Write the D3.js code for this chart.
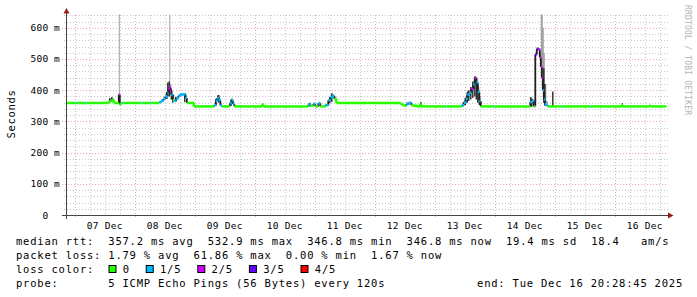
<!DOCTYPE html>
<html>
<head>
<meta charset="utf-8">
<script src="https://cdn.jsdelivr.net/npm/d3@7/dist/d3.min.js"></script>
<style>
  body { margin: 0; background: #fff; }
  text { font-family: "DejaVu Sans Mono", monospace; fill: #000; white-space: pre; }
</style>
</head>
<body>
<div id="chart"></div>
<script>
// breakpoints of the median rtt (ms); each value holds until the next time
const times = [
  "12-06 20:28", "12-07 00:48", "12-07 01:12", "12-07 04:12", "12-07 04:36",
  "12-07 13:24", "12-07 14:12", "12-07 15:00", "12-07 15:36",
  "12-07 17:36", "12-07 18:00", "12-07 18:24", "12-07 18:48", "12-07 19:12",
  "12-08 02:12", "12-08 02:36", "12-08 06:12", "12-08 06:36",
  "12-08 09:48", "12-08 10:36", "12-08 11:24", "12-08 12:12", "12-08 13:00", "12-08 13:24",
  "12-08 13:48", "12-08 14:12", "12-08 14:36", "12-08 15:12", "12-08 15:48", "12-08 16:36",
  "12-08 17:24", "12-08 18:12", "12-08 19:24", "12-08 20:12", "12-08 20:48",
  "12-08 23:36",
  "12-09 07:48", "12-09 08:24", "12-09 09:00", "12-09 09:36", "12-09 10:12", "12-09 10:48",
  "12-09 14:00", "12-09 14:36", "12-09 15:12", "12-09 15:48",
  "12-10 02:48", "12-10 03:24", "12-10 21:24", "12-10 22:12", "12-10 23:24",
  "12-11 00:12", "12-11 01:24", "12-11 02:12", "12-11 04:12", "12-11 05:24",
  "12-11 06:12", "12-11 07:00", "12-11 07:48", "12-11 08:36",
  "12-12 10:12", "12-12 11:00", "12-12 11:48", "12-12 12:36", "12-12 13:48",
  "12-12 14:36", "12-12 15:24", "12-12 16:48", "12-12 18:12", "12-12 18:36",
  "12-13 04:12", "12-13 04:36", "12-13 10:48", "12-13 11:36", "12-13 12:24",
  "12-13 13:00", "12-13 13:48", "12-13 14:36", "12-13 15:24", "12-13 16:00",
  "12-13 16:36", "12-13 17:12", "12-13 17:48", "12-13 18:24", "12-13 23:48",
  "12-14 00:12", "12-14 14:12", "12-14 15:00", "12-14 15:36", "12-14 16:12",
  "12-14 16:48", "12-14 17:24", "12-14 18:00", "12-14 18:24", "12-14 18:48",
  "12-14 19:12", "12-14 19:36", "12-14 20:00", "12-14 20:36", "12-14 21:12",
  "12-15 02:48", "12-15 03:12", "12-15 14:24", "12-15 14:48",
  "12-16 02:48", "12-16 03:12", "12-16 13:48", "12-16 14:12", "12-16 20:28"
];
const medianMs = [
  359, 359, 359, 359, 359,
  362, 366, 369, 359,
  386, 354, 359, 359, 359,
  359, 359, 359, 359,
  362, 366, 372, 380, 392, 405,
  410, 398, 385, 368, 366, 374,
  382, 386, 387, 375, 359,
  348,
  352, 366, 375, 368, 352, 348,
  358, 368, 356, 348,
  354, 348, 354, 350, 356,
  348, 358, 348, 352, 368,
  378, 382, 372, 359,
  356, 352, 350, 356, 360,
  352, 350, 348, 356, 348,
  348, 348, 352, 360, 372,
  386, 392, 404, 418, 440,
  425, 395, 365, 348, 348,
  348, 362, 366, 348, 515,
  533, 530, 505, 475, 440,
  400, 370, 355, 352, 348,
  348, 348, 348, 348,
  352, 348, 350, 348, 348
];
// lost pings out of 5 for each breakpoint
const lossLevel = [
  0, 1, 0, 1, 0,
  0, 0, 0, 0,
  2, 0, 0, 1, 0,
  1, 0, 1, 0,
  1, 1, 1, 1, 1, 2,
  2, 2, 1, 0, 1, 1,
  1, 1, 1, 1, 0,
  0,
  1, 1, 1, 1, 1, 0,
  1, 1, 1, 0,
  0, 0, 1, 0, 1,
  0, 1, 0, 1, 1,
  1, 1, 0, 0,
  0, 0, 0, 1, 1,
  0, 0, 0, 0, 0,
  1, 0, 1, 1, 1,
  1, 1, 2, 1, 2,
  1, 1, 1, 0, 1,
  0, 1, 1, 0, 3,
  3, 2, 2, 2, 2,
  1, 1, 1, 1, 0,
  1, 0, 1, 0,
  0, 0, 0, 0, 0
];
// top of the grey smoke (slowest ping) at each breakpoint
const smokeTopMs = [
  359, 359, 359, 359, 359,
  366, 372, 375, 359,
  643, 354, 359, 359, 359,
  359, 359, 359, 359,
  364, 370, 378, 392, 402, 425,
  643, 420, 400, 385, 372, 380,
  386, 390, 390, 386, 359,
  348,
  358, 374, 385, 378, 360, 348,
  366, 374, 362, 348,
  358, 348, 358, 350, 360,
  348, 362, 348, 356, 372,
  384, 386, 380, 359,
  356, 352, 350, 362, 360,
  352, 350, 348, 360, 348,
  348, 348, 356, 368, 382,
  395, 400, 410, 430, 444,
  438, 410, 380, 348, 348,
  348, 376, 372, 348, 522,
  536, 535, 520, 643, 643,
  600, 520, 420, 365, 348,
  348, 348, 348, 348,
  352, 348, 350, 348, 348
];
// dark smoke strokes (fast/slow pings around the median)
const darkTimes = [
  "12-07 13:48", "12-07 14:36",
  "12-08 12:36", "12-08 13:00", "12-08 13:36", "12-08 14:24", "12-08 15:00", "12-08 16:12", "12-08 19:48",
  "12-09 08:12", "12-09 09:00", "12-09 09:24", "12-09 14:24",
  "12-10 21:48", "12-11 05:48", "12-11 06:36",
  "12-12 18:12",
  "12-13 11:12", "12-13 12:00", "12-13 12:48", "12-13 13:24", "12-13 14:12",
  "12-13 15:00", "12-13 15:48", "12-13 16:24", "12-13 17:00", "12-13 17:36",
  "12-14 14:12", "12-14 14:36", "12-14 19:24", "12-14 19:48", "12-14 23:00",
  "12-16 02:48"
];
const darkLowMs = [
  362, 362,
  372, 380, 380, 370, 360, 362, 362,
  350, 366, 360, 350,
  348, 358, 362,
  348,
  348, 352, 360, 365, 370,
  375, 380, 370, 360, 352,
  348, 348, 360, 350, 348,
  348
];
const darkHighMs = [
  375, 378,
  395, 425, 428, 405, 388, 378, 390,
  372, 383, 385, 372,
  360, 378, 390,
  362,
  362, 376, 395, 400, 410,
  428, 444, 438, 415, 385,
  378, 372, 470, 420, 396,
  358
];

const yTicks = [0, 100, 200, 300, 400, 500, 600];
const yTickLabels = ["0", "100", "200", "300", "400", "500", "600"];
const lossColors = ["#26ff00", "#00b8ff", "#d400ff", "#6600ff", "#ff0000"];
const lossLabels = ["0", "1/5", "2/5", "3/5", "4/5"];
const statNames = ["avg", "max", "min", "now", "sd"];
const rttStats = [357.2, 532.9, 346.8, 346.8, 19.4];
const amPerSec = 18.4;
const lossStats = [1.79, 61.86, 0.00, 1.67];
const probeText = "5 ICMP Echo Pings (56 Bytes) every 120s";
const endText = "end: Tue Dec 16 20:28:45 2025";

const W = 697, H = 297;
const parse = d3.timeParse("%Y-%m-%d %H:%M");
const T = times.map(s => parse("2025-" + s));
const start = d3.timeParse("%Y-%m-%d %H:%M:%S")("2025-12-06 20:28:45");
const end = d3.timeParse("%Y-%m-%d %H:%M:%S")("2025-12-16 20:28:45");

const x = d3.scaleTime().domain([start, end]).range([66, 666]);
const y = d3.scaleLinear().domain([0, 641]).range([215, 15]);

const svg = d3.select("#chart").append("svg")
  .attr("width", W).attr("height", H);
svg.append("rect").attr("width", W).attr("height", H).attr("fill", "#fff");

// grid
const grid = svg.append("g");
const hours = d3.timeHour.every(6).range(start, d3.timeHour.offset(end, 3));
hours.forEach(h => {
  const major = h.getHours() === 0;
  const xx = Math.round(x(h)) + 0.5;
  grid.append("line")
    .attr("x1", xx).attr("x2", xx).attr("y1", 15).attr("y2", major ? 218 : 215)
    .attr("stroke", major ? "#e6aaaa" : "#c8c8c8")
    .attr("stroke-dasharray", "1,2");
});
d3.range(20, 641, 20).forEach(v => {
  const major = v % 100 === 0;
  const yy = Math.round(y(v)) + 0.5;
  grid.append("line")
    .attr("x1", major ? 62 : 64).attr("x2", 668).attr("y1", yy).attr("y2", yy)
    .attr("stroke", major ? "#e6aaaa" : "#c8c8c8")
    .attr("stroke-dasharray", "1,2");
});

// smoke
const idx = d3.range(T.length);
svg.append("clipPath").attr("id", "clip")
  .append("rect").attr("x", 66).attr("y", 13).attr("width", 601).attr("height", 203);
const plot = svg.append("g").attr("clip-path", "url(#clip)");

plot.append("path")
  .attr("d", d3.area()
    .curve(d3.curveStepAfter)
    .x(i => x(T[i]))
    .y0(i => y(medianMs[i]))
    .y1(i => y(smokeTopMs[i]))(idx))
  .attr("fill", "#a2a2a2");

darkTimes.forEach((s, i) => {
  const xx = x(parse("2025-" + s)) + 0.5;
  plot.append("line")
    .attr("x1", xx).attr("x2", xx)
    .attr("y1", y(darkLowMs[i])).attr("y2", y(darkHighMs[i]))
    .attr("stroke", "#2a2a2a").attr("stroke-width", 1.4);
});

// median line coloured by loss
d3.pairs(idx).forEach(([a, b]) => {
  if (medianMs[a] !== medianMs[b]) {
    const same = lossLevel[a] === 0 && lossLevel[b] === 0;
    plot.append("line")
      .attr("x1", x(T[b])).attr("x2", x(T[b]))
      .attr("y1", y(medianMs[a])).attr("y2", y(medianMs[b]))
      .attr("stroke", same ? lossColors[0] : "#1e1e1e")
      .attr("stroke-width", same ? 2.5 : 1.8);
  }
});
d3.pairs(idx).forEach(([a, b]) => {
  plot.append("line")
    .attr("x1", x(T[a])).attr("x2", x(T[b]) + (lossLevel[a] === lossLevel[b] ? 0.4 : 0))
    .attr("y1", y(medianMs[a])).attr("y2", y(medianMs[a]))
    .attr("stroke", lossColors[lossLevel[a]])
    .attr("stroke-width", 2.5);
});

// axes
svg.append("line").attr("x1", 66.5).attr("x2", 66.5).attr("y1", 219).attr("y2", 12)
  .attr("stroke", "#444");
svg.append("line").attr("x1", 62).attr("x2", 670).attr("y1", 215.5).attr("y2", 215.5)
  .attr("stroke", "#444");
svg.append("path").attr("d", "M63.5,13.5L69.5,13.5L66.5,8Z").attr("fill", "#9b1b1b");
svg.append("path").attr("d", "M668,212.5L668,218.5L673.5,215.5Z").attr("fill", "#9b1b1b");

// y labels
yTicks.forEach((v, i) => {
  svg.append("text")
    .attr("x", 48.5).attr("y", y(v) + 3.5)
    .attr("text-anchor", "end")
    .style("font-size", "9.5px").style("letter-spacing", "0.3px")
    .text(yTickLabels[i]);
  if (v !== 0) {
    svg.append("text")
      .attr("x", 54).attr("y", y(v) + 3.5)
      .style("font-size", "9.5px")
      .text("m");
  }
});

// x labels at noon
d3.timeDay.range(d3.timeDay.ceil(start), end).forEach(d => {
  const noon = d3.timeHour.offset(d, 12);
  svg.append("text")
    .attr("x", x(noon)).attr("y", 228.5)
    .attr("text-anchor", "middle")
    .style("font-size", "9.5px").style("letter-spacing", "0.3px")
    .text(d3.timeFormat("%d %b")(d));
});

svg.append("text")
  .attr("transform", "translate(15,114) rotate(-90)")
  .attr("text-anchor", "middle")
  .style("font-size", "10.5px").style("letter-spacing", "0.7px")
  .text("Seconds");

svg.append("text")
  .attr("transform", "translate(685,5) rotate(90)")
  .style("font-size", "8px").style("letter-spacing", "0.2px")
  .style("fill", "#b4b4b4")
  .text("RRDTOOL / TOBI OETIKER");

// legend
const lg = svg.append("g")
  .style("font-size", "10.5px").style("letter-spacing", "0.78px");
const rttLine = "median rtt:  " +
  rttStats.map((v, i) => `${v.toFixed(1)} ms ${statNames[i]}`).join("  ") +
  `  ${amPerSec.toFixed(1)}   am/s`;
const lossLine = "packet loss: " +
  lossStats.map((v, i) => `${v.toFixed(2)} % ${statNames[i]}`).join("  ");
lg.append("text").attr("x", 16).attr("y", 245).text(rttLine);
lg.append("text").attr("x", 16).attr("y", 259).text(lossLine);
lg.append("text").attr("x", 16).attr("y", 273).text("loss color:");
lossLabels.forEach((l, i) => {
  const bx = i === 0 ? 108.5 : 145.7 + (i - 1) * 51.6;
  lg.append("rect")
    .attr("x", bx + 0.5).attr("y", 265.5).attr("width", 7).attr("height", 7)
    .attr("fill", lossColors[i]).attr("stroke", "#000").attr("stroke-width", 1);
  lg.append("text").attr("x", bx + 14.3).attr("y", 273).text(l);
});
lg.append("text").attr("x", 16).attr("y", 287).text("probe:");
lg.append("text").attr("x", 108.3).attr("y", 287).text(probeText);
lg.append("text").attr("x", 683).attr("y", 287).attr("text-anchor", "end").text(endText);
</script>
</body>
</html>
